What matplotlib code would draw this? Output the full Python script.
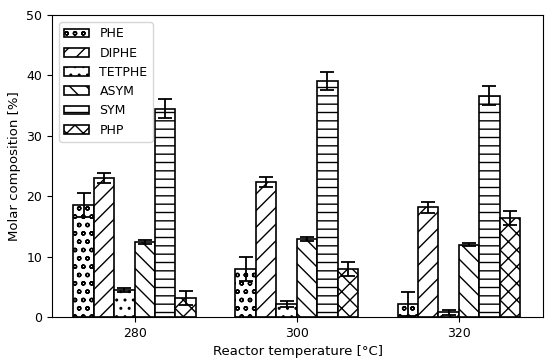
import matplotlib.pyplot as plt
import numpy as np

temps = ['280', '300', '320']
names = ['PHE', 'DIPHE', 'TETPHE', 'ASYM', 'SYM', 'PHP']
hatches = ['oo', '//', '..', '\\\\', '--', 'xx']

phe = [18.6, 8.0, 2.2]
diphe = [23.0, 22.3, 18.2]
tetphe = [4.5, 2.2, 0.8]
asym = [12.4, 12.9, 12.0]
sym = [34.5, 39.1, 36.6]
php = [3.2, 8.0, 16.4]

phe_err = [2.0, 2.0, 2.0]
diphe_err = [0.8, 0.8, 0.9]
tetphe_err = [0.4, 0.5, 0.4]
asym_err = [0.3, 0.3, 0.3]
sym_err = [1.5, 1.5, 1.6]
php_err = [1.2, 1.2, 1.2]

values = [phe, diphe, tetphe, asym, sym, php]
errors = [phe_err, diphe_err, tetphe_err, asym_err, sym_err, php_err]

plt.rcParams['font.size'] = 9

fig = plt.figure(figsize=(5.5, 3.6), dpi=100)
ax = fig.add_axes([0.0945, 0.119, 0.893, 0.840])

x = np.arange(len(temps))
w = 0.126
for i, (name, v, e, h) in enumerate(zip(names, values, errors, hatches)):
    ax.bar(x + (i - 2.5) * w, v, w, yerr=e, capsize=5, color='white',
           edgecolor='black', linewidth=1.2, hatch=h, label=name,
           error_kw=dict(ecolor='black', elinewidth=1.3, capthick=1.3))

ax.set_xticks(x)
ax.set_xticklabels(temps)
ax.set_xlim(-0.51, 2.52)
ax.set_ylim(0, 50)
ax.set_xlabel('Reactor temperature [°C]', fontsize=9.5)
ax.set_ylabel('Molar composition [%]', fontsize=9.5)
ax.legend(loc='upper left', fontsize=9, borderaxespad=0.6)
fig.savefig('out.png')
